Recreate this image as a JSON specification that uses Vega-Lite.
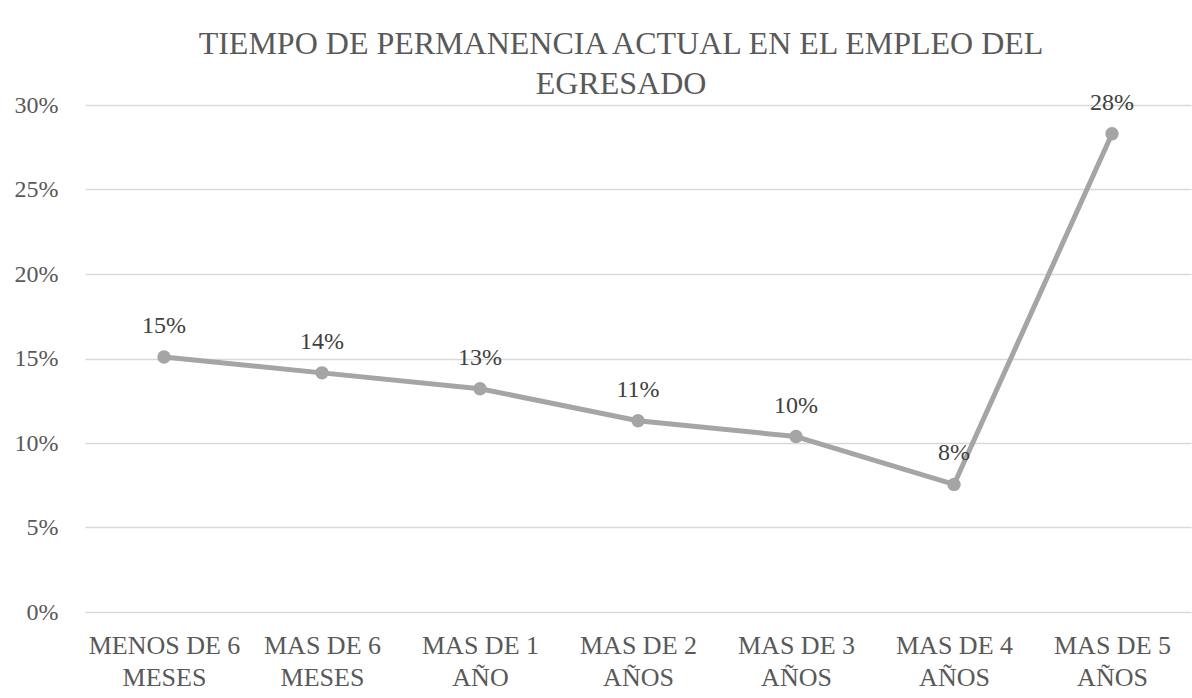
{
  "$schema": "https://vega.github.io/schema/vega-lite/v6.json",
  "autosize": {"type": "none"},
  "width": 1106,
  "height": 507,
  "padding": {"left": 85, "top": 105, "right": 1, "bottom": 86},
  "background": "white",
  "config": {
    "view": {"stroke": null},
    "font": "Liberation Serif"
  },
  "title": {
    "text": ["TIEMPO DE PERMANENCIA ACTUAL EN EL EMPLEO DEL", "EGRESADO"],
    "font": "Liberation Serif",
    "fontSize": 32,
    "fontWeight": "normal",
    "color": "#595959",
    "anchor": "middle",
    "baseline": "bottom",
    "lineHeight": 40,
    "offset": 6,
    "dx": -17,
    "dy": 48
  },
  "data": {
    "values": [
      {"categoria": "MENOS DE 6 MESES", "porcentaje": 0.1509},
      {"categoria": "MAS DE 6 MESES", "porcentaje": 0.1415},
      {"categoria": "MAS DE 1 AÑO", "porcentaje": 0.1321},
      {"categoria": "MAS DE 2 AÑOS", "porcentaje": 0.1132},
      {"categoria": "MAS DE 3 AÑOS", "porcentaje": 0.1038},
      {"categoria": "MAS DE 4 AÑOS", "porcentaje": 0.0755},
      {"categoria": "MAS DE 5 AÑOS", "porcentaje": 0.2830}
    ]
  },
  "encoding": {
    "x": {
      "field": "categoria",
      "type": "ordinal",
      "sort": null,
      "scale": {"type": "point", "padding": 0.5},
      "axis": {
        "title": null,
        "domain": false,
        "ticks": false,
        "grid": false,
        "labelAngle": 0,
        "labelFont": "Liberation Serif",
        "labelFontSize": 26,
        "labelColor": "#595959",
        "labelPadding": 20,
        "labelLineHeight": 32,
        "labelBaseline": "top",
        "labelExpr": "[slice(datum.label, 0, lastindexof(datum.label, ' ')), slice(datum.label, lastindexof(datum.label, ' ') + 1)]"
      }
    },
    "y": {
      "field": "porcentaje",
      "type": "quantitative",
      "scale": {"domain": [0, 0.3], "nice": false},
      "axis": {
        "title": null,
        "values": [0, 0.05, 0.1, 0.15, 0.2, 0.25, 0.3],
        "format": ".0%",
        "domain": false,
        "ticks": false,
        "grid": true,
        "gridColor": "#D9D9D9",
        "gridWidth": 1.3,
        "labelFont": "Liberation Serif",
        "labelFontSize": 24,
        "labelColor": "#595959",
        "labelPadding": 27
      }
    }
  },
  "layer": [
    {
      "mark": {"type": "line", "color": "#A5A5A5", "strokeWidth": 5, "strokeCap": "round", "strokeJoin": "round"}
    },
    {
      "mark": {"type": "point", "shape": "circle", "filled": true, "color": "#A5A5A5", "opacity": 1, "size": 180}
    },
    {
      "mark": {"type": "text", "font": "Liberation Serif", "fontSize": 24, "color": "#404040", "baseline": "alphabetic", "dy": -24},
      "encoding": {
        "text": {"field": "porcentaje", "type": "quantitative", "format": ".0%"}
      }
    }
  ]
}
